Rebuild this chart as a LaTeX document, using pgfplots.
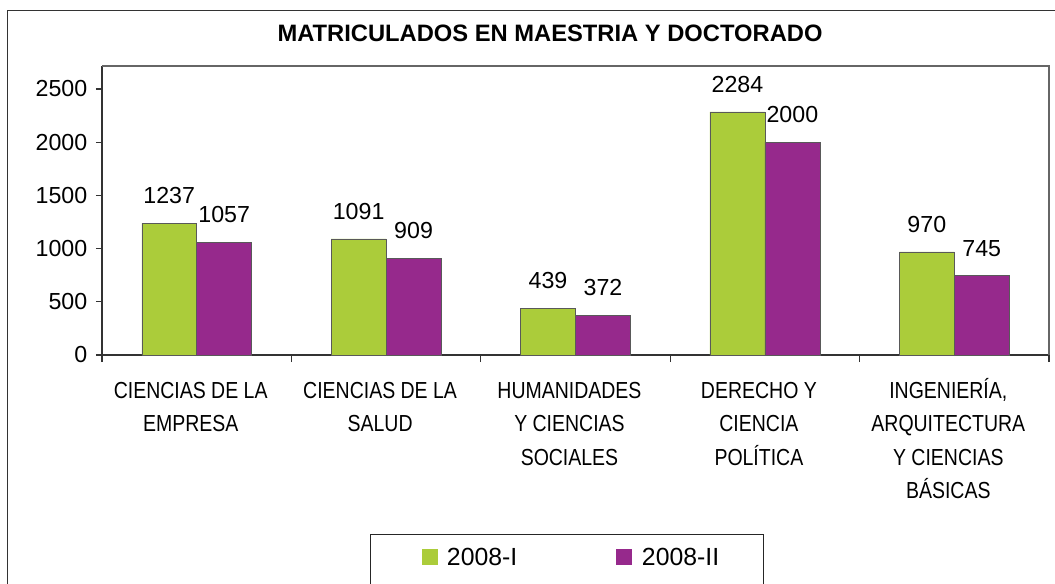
\documentclass[border=0pt]{standalone}
\usepackage{pgfplots}
\pgfplotsset{compat=1.18}
\usepackage{fontspec}
\setmainfont{Liberation Sans}
\newfontfamily\narrowfont[FakeStretch=0.84]{Liberation Sans}
\definecolor{cgreen}{RGB}{171,204,58}
\definecolor{cpurple}{RGB}{150,41,140}
\newcommand\lbl{\fontsize{17.4}{20}\selectfont}
\newcommand\fl{\rule{0pt}{16pt}}
\begin{document}
\begin{tikzpicture}
\clip (0,0) rectangle (791.25pt,437.25pt);
\begin{scope}[x=0.75pt,y=-0.75pt,shift={(0pt,437.25pt)}]
\draw[black!80, line width=1pt] (7.3,10.7) rectangle (1200,800);
\node[font=\bfseries\fontsize{17.8}{20}\selectfont, anchor=base, inner sep=0pt] at (550,41.7) {MATRICULADOS EN MAESTRIA Y DOCTORADO};
\draw[black!85, line width=0.8pt] (370.7,534.3) rectangle (763.5,700);
\fill[cgreen] (421.7,549) rectangle (437.7,565);
\node[anchor=base west, inner sep=0pt, font=\fontsize{18.6}{20}\selectfont] at (446.7,565) {2008-I};
\fill[cpurple] (616,549) rectangle (632,565);
\node[anchor=base west, inner sep=0pt, font=\fontsize{18.6}{20}\selectfont] at (641.7,565) {2008-II};
\end{scope}
\begin{axis}[at={(76.5pt,171pt)}, anchor=south west, scale only axis,
  width=710.25pt, height=216.75pt,
  ybar=0pt, bar width=0.29,
  xmin=-0.5, xmax=4.5, ymin=0, ymax=2716,
  axis x line*=bottom, axis y line*=left,
  axis line style={black!80, line width=0.8pt},
  xtick={0,...,4},
  xticklabels={{\fl CIENCIAS DE LA\\EMPRESA},{\fl CIENCIAS DE LA\\SALUD},{\fl HUMANIDADES\\Y CIENCIAS\\SOCIALES},{\fl DERECHO Y\\CIENCIA\\POLÍTICA},{\fl INGENIERÍA,\\ARQUITECTURA\\Y CIENCIAS\\BÁSICAS}},
  major x tick style={draw=none},
  minor xtick={-0.5,0.5,1.5,2.5,3.5,4.5},
  ytick={0,500,...,2500},
  tick align=outside, major tick length=4.5pt, minor tick length=5.25pt,
  tick style={black!80, line width=0.8pt},
  xticklabel style={font=\narrowfont\fontsize{17.4}{25}\selectfont, align=center, inner sep=0pt, yshift=-12pt, xshift=-4.5pt},
  yticklabel style={font=\lbl, xshift=-3pt},
  /pgf/number format/assume math mode=true,
  /pgf/number format/set thousands separator={},
  nodes near coords,
  every node near coord/.append style={font=\lbl, anchor=base, yshift=14.7pt, inner sep=0pt},
  clip=false,
]
\addplot[fill=cgreen, draw=black!65] coordinates {(0,1237)(1,1091)(2,439)(3,2284)(4,970)};
\addplot[fill=cpurple, draw=black!65] coordinates {(0,1057)(1,909)(2,372)(3,2000)(4,745)};
\draw[black!60, line width=0.8pt] (rel axis cs:0,1) -- (rel axis cs:1,1) -- (rel axis cs:1,0);
\end{axis}
\end{tikzpicture}
\end{document}
